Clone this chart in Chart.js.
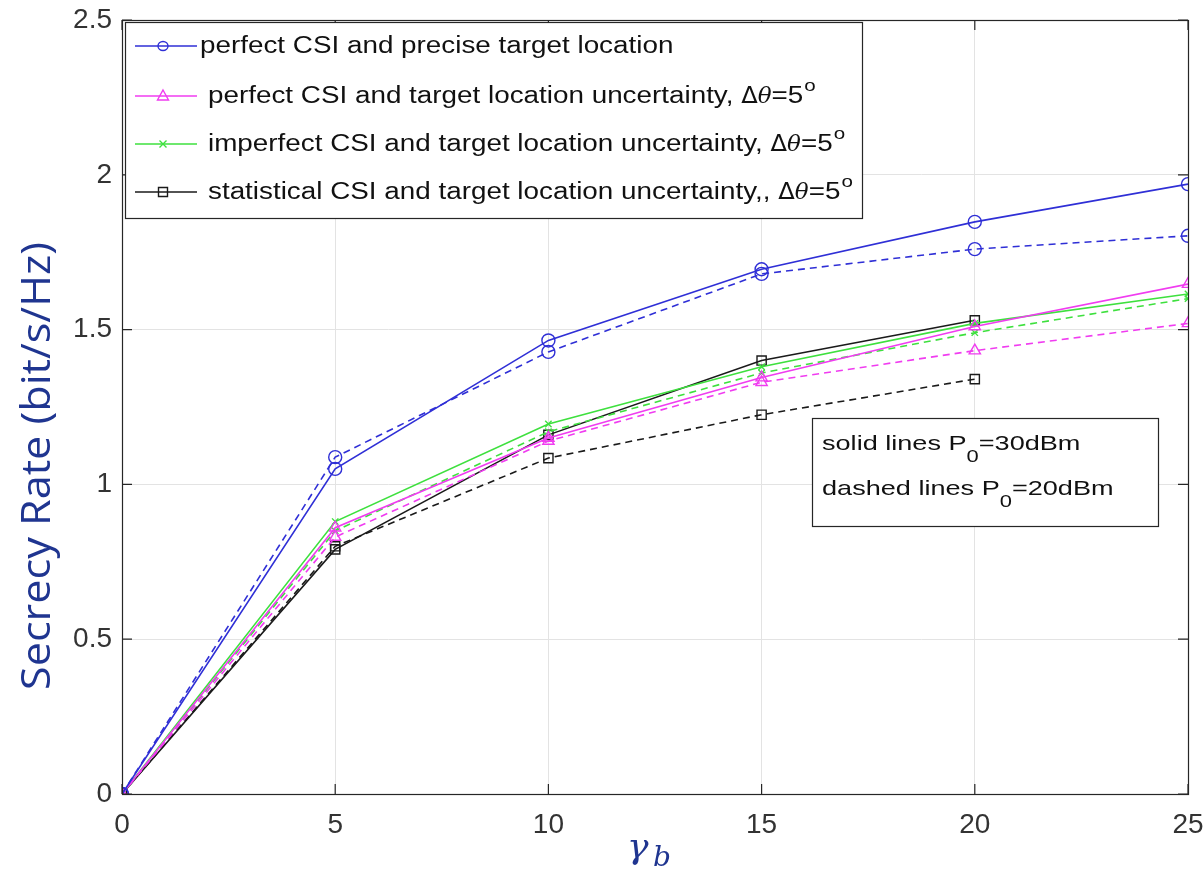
<!DOCTYPE html>
<html>
<head>
<meta charset="utf-8">
<script src="https://cdn.jsdelivr.net/npm/chart.js@4/dist/chart.umd.min.js"></script>
<style>
  html, body { margin: 0; padding: 0; background: #fff; }
  #wrap { width: 1204px; height: 873px; position: relative; }
</style>
</head>
<body>
<div id="wrap"><canvas id="c" width="1204" height="873"></canvas></div>
<script>
// ===== data =====
const gammaB = [0, 5, 10, 15, 20, 25];
const xTicks = [0, 5, 10, 15, 20, 25];
const yTicks = [0, 0.5, 1, 1.5, 2, 2.5];

// solid lines: P0 = 30dBm, dashed lines: P0 = 20dBm
const perfectPreciseSolid  = [0, 1.05, 1.465, 1.695, 1.848, 1.97];
const perfectPreciseDashed = [0, 1.088, 1.428, 1.68, 1.76, 1.803];
const perfectUncertSolid   = [0, 0.86, 1.15, 1.345, 1.51, 1.647];
const perfectUncertDashed  = [0, 0.83, 1.14, 1.33, 1.432, 1.52];
const imperfectSolid       = [0, 0.88, 1.195, 1.38, 1.52, 1.615];
const imperfectDashed      = [0, 0.85, 1.17, 1.36, 1.49, 1.60];
const statisticalSolid     = [0, 0.79, 1.16, 1.40, 1.53];
const statisticalDashed    = [0, 0.80, 1.085, 1.225, 1.34];

const legendLabels = [
  'perfect CSI and precise target location',
  'perfect CSI and target location uncertainty, ',
  'imperfect CSI and target location uncertainty, ',
  'statistical CSI and target location uncertainty,, '
];

const BLUE = '#2f2fd6', MAGENTA = '#f03cf0', GREEN = '#3ee03e', BLACK = '#1a1a1a';
const SANS = '"Liberation Sans", Arial, sans-serif';

function pts(vals) { return vals.map((v, i) => ({ x: gammaB[i], y: v })); }

function series(label, vals, color, style, dashed) {
  return {
    label, data: pts(vals),
    borderColor: color, backgroundColor: 'transparent',
    borderWidth: 1.6, borderDash: dashed ? [7, 5] : [],
    pointStyle: style, pointRadius: style === 'crossRot' ? 4.5 : 6.5,
    pointBorderColor: color, pointBackgroundColor: 'transparent',
    pointBorderWidth: 1.4, tension: 0, fill: false
  };
}

const datasets = [
  series(legendLabels[0], perfectPreciseSolid, BLUE, 'circle', false),
  series(legendLabels[0] + ' (20dBm)', perfectPreciseDashed, BLUE, 'circle', true),
  series(legendLabels[1], perfectUncertSolid, MAGENTA, 'triangle', false),
  series(legendLabels[1] + ' (20dBm)', perfectUncertDashed, MAGENTA, 'triangle', true),
  series(legendLabels[2], imperfectSolid, GREEN, 'crossRot', false),
  series(legendLabels[2] + ' (20dBm)', imperfectDashed, GREEN, 'crossRot', true),
  series(legendLabels[3], statisticalSolid, BLACK, 'rect', false),
  series(legendLabels[3] + ' (20dBm)', statisticalDashed, BLACK, 'rect', true)
];

// text drawn a bit wider than the font, like the scanned figure
function fillStretched(ctx, text, x, y, sx) {
  ctx.save(); ctx.translate(x, y); ctx.scale(sx, 1); ctx.fillText(text, 0, 0); ctx.restore();
  return ctx.measureText(text).width * sx;
}

function drawMarker(ctx, style, x, y, color) {
  ctx.save();
  ctx.strokeStyle = color; ctx.lineWidth = 1.4; ctx.setLineDash([]);
  ctx.beginPath();
  if (style === 'circle') ctx.ellipse(x, y, 5, 4.5, 0, 0, Math.PI * 2);
  else if (style === 'triangle') { ctx.moveTo(x, y - 6); ctx.lineTo(x + 5.5, y + 4); ctx.lineTo(x - 5.5, y + 4); ctx.closePath(); }
  else if (style === 'crossRot') { ctx.moveTo(x - 3.5, y - 3.5); ctx.lineTo(x + 3.5, y + 3.5); ctx.moveTo(x + 3.5, y - 3.5); ctx.lineTo(x - 3.5, y + 3.5); }
  else if (style === 'rect') ctx.rect(x - 4.5, y - 4.5, 9, 9);
  ctx.stroke();
  ctx.restore();
}

// ---- box, legend, annotation and axis titles ----
const decor = {
  id: 'decor',
  afterDraw(chart) {
    const ctx = chart.ctx, a = chart.chartArea;
    ctx.save();
    // axes box (matlab style)
    ctx.strokeStyle = '#262626'; ctx.lineWidth = 1.2; ctx.setLineDash([]);
    ctx.strokeRect(a.left + 0.5, a.top + 0.5, a.right - a.left, a.bottom - a.top);
    // inward ticks
    const xs = chart.scales.x, ys = chart.scales.y;
    ctx.beginPath();
    xTicks.forEach(t => {
      const px = xs.getPixelForValue(t);
      ctx.moveTo(px, a.bottom); ctx.lineTo(px, a.bottom - 10);
      ctx.moveTo(px, a.top); ctx.lineTo(px, a.top + 10);
    });
    yTicks.forEach(t => {
      const py = ys.getPixelForValue(t);
      ctx.moveTo(a.left, py); ctx.lineTo(a.left + 10, py);
      ctx.moveTo(a.right, py); ctx.lineTo(a.right - 10, py);
    });
    ctx.stroke();

    // legend
    const lx = 125, ly = 22, lw = 737, lh = 196;
    ctx.fillStyle = '#fff';
    ctx.fillRect(lx, ly, lw, lh);
    ctx.strokeStyle = '#262626'; ctx.lineWidth = 1.2;
    ctx.strokeRect(lx + 0.5, ly + 0.5, lw, lh);
    const rows = [46, 96, 144, 192];
    const solids = [0, 2, 4, 6];
    const sx = 1.21;
    ctx.textBaseline = 'middle';
    rows.forEach((ry, i) => {
      const ds = datasets[solids[i]];
      ctx.strokeStyle = ds.borderColor; ctx.lineWidth = 1.4;
      ctx.beginPath(); ctx.moveTo(135, ry); ctx.lineTo(197, ry); ctx.stroke();
      drawMarker(ctx, ds.pointStyle, 163, ry, ds.borderColor);
      ctx.fillStyle = '#111';
      ctx.font = '23px ' + SANS;
      const tx = i === 0 ? 200 : 208;
      let w = tx + fillStretched(ctx, legendLabels[i], tx, ry + 1, sx);
      if (i > 0) {
        ctx.font = '23px "DejaVu Sans", sans-serif';
        w += fillStretched(ctx, '\u0394', w, ry + 1, 1.05);
        ctx.font = 'italic 23px "DejaVu Serif", serif';
        w += fillStretched(ctx, '\u03b8', w, ry + 1, 1.0);
        ctx.font = '23px ' + SANS;
        w += fillStretched(ctx, '=5', w, ry + 1, sx);
        ctx.font = '17px ' + SANS;
        fillStretched(ctx, 'o', w + 1, ry - 10, sx);
      }
    });

    // annotation box
    ctx.fillStyle = '#fff';
    ctx.fillRect(812, 418, 346, 108);
    ctx.strokeStyle = '#262626'; ctx.lineWidth = 1.2;
    ctx.strokeRect(812.5, 418.5, 346, 108);
    ctx.fillStyle = '#111';
    [['solid lines P', '=30dBm', 444], ['dashed lines P', '=20dBm', 489]].forEach(([pre, post, y]) => {
      const s2 = 1.29;
      ctx.font = '21px ' + SANS;
      let w = 822 + fillStretched(ctx, pre, 822, y, s2);
      ctx.font = '17px ' + SANS;
      w += fillStretched(ctx, '0', w, y + 13, s2);
      ctx.font = '21px ' + SANS;
      fillStretched(ctx, post, w, y, s2);
    });

    // y title, fitted to its length in the figure
    ctx.fillStyle = '#1f3590';
    ctx.textBaseline = 'alphabetic';
    ctx.save();
    ctx.translate(50, 466);
    ctx.rotate(-Math.PI / 2);
    ctx.font = '40px "Open Sans", sans-serif';
    const yt = 'Secrecy Rate (bit/s/Hz)';
    const tw = ctx.measureText(yt).width;
    ctx.scale(448 / tw, 1);
    ctx.textAlign = 'center';
    ctx.fillText(yt, 0, 0);
    ctx.restore();
    // x title gamma_b
    ctx.textAlign = 'left';
    ctx.font = 'italic 36px "DejaVu Serif", serif';
    ctx.fillText('\u03b3', 627, 858);
    ctx.font = 'italic 28px "DejaVu Serif", serif';
    ctx.fillText('b', 653, 866);
    ctx.restore();
  }
};

new Chart(document.getElementById('c'), {
  type: 'line',
  data: { datasets },
  options: {
    responsive: false, animation: false,
    layout: { padding: { left: 0, top: 20, right: 16, bottom: 0 } },
    plugins: { legend: { display: false }, tooltip: { enabled: false } },
    scales: {
      x: {
        type: 'linear', min: 0, max: 25,
        afterBuildTicks(s) { s.ticks = xTicks.map(v => ({ value: v })); },
        afterFit(s) { s.height = 79; s.paddingLeft = 0; s.paddingRight = 0; },
        grid: { color: '#e3e3e3', lineWidth: 1, drawTicks: false },
        border: { display: false },
        ticks: { color: '#333', padding: 14, maxRotation: 0, font: { family: SANS, size: 28 } }
      },
      y: {
        min: 0, max: 2.5,
        afterBuildTicks(s) { s.ticks = yTicks.map(v => ({ value: v })); },
        afterFit(s) { s.width = 122; s.paddingTop = 0; s.paddingBottom = 0; },
        grid: { color: '#e3e3e3', lineWidth: 1, drawTicks: false },
        border: { display: false },
        ticks: { color: '#333', padding: 10, callback: v => String(v), font: { family: SANS, size: 28 } }
      }
    }
  },
  plugins: [decor]
});
</script>
</body>
</html>
